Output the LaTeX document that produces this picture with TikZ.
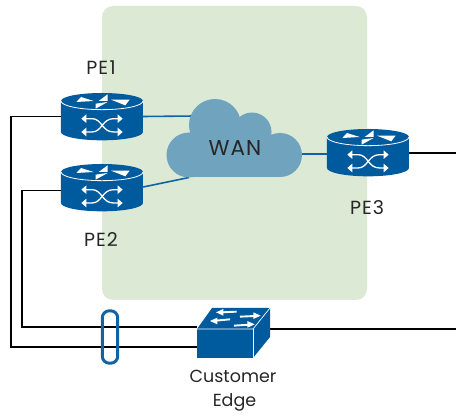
\documentclass[tikz,border=0pt]{standalone}
\usepackage{fontspec}
\setmainfont{Poppins}
\definecolor{bgG}{HTML}{DCE9D4}
\definecolor{devB}{HTML}{005A9E}
\definecolor{linkB}{HTML}{0F64A8}
\definecolor{cloudB}{HTML}{6FA3BE}
\tikzset{
  wire/.style={draw=black,line width=1.4pt},
  link/.style={draw=linkB,line width=1.6pt},
  lbl/.style={font=\fontsize{17.5}{19}\selectfont,inner sep=0pt,text=black!85},
  pelbl/.style={lbl,font=\fontsize{19}{21}\selectfont},
  anchorbox/.style={inner sep=0pt,minimum width=82pt,minimum height=47pt},
  xarrow/.style={draw=white,line width=1.3pt}
}
% zoom-grid drawing of a router: #1 left x, #2 top y
\newcommand{\routerdev}[2]{
  \begin{scope}[shift={(#1-10.67,#2-12.67)},x=0.3333pt,y=-0.3333pt]
    \fill[devB] (32,62) arc[x radius=123,y radius=24,start angle=180,end angle=360]
      -- (278,155) arc[x radius=123,y radius=25,start angle=0,end angle=180] -- cycle;
    \draw[white,line width=0.8pt] (32,62) arc[x radius=123,y radius=26,start angle=180,end angle=0];
    \fill[white] (78,65) -- (130,62) -- (92,50) -- cycle;
    \fill[white] (145,62) -- (172,42) -- (172,62) -- cycle;
    \fill[white] (136,70) -- (172,65) -- (136,85) -- cycle;
    \fill[white] (182,58) -- (238,58) -- (225,75) -- cycle;
    \draw[xarrow] (105,115) -- (125,115) .. controls (155,115) and (155,155) .. (190,155) -- (205,155);
    \draw[xarrow] (105,155) -- (125,155) .. controls (155,155) and (155,115) .. (190,115) -- (205,115);
    \fill[white] (93,115) -- (108,102) -- (108,128) -- cycle;
    \fill[white] (93,155) -- (108,142) -- (108,168) -- cycle;
    \fill[white] (217,115) -- (202,102) -- (202,128) -- cycle;
    \fill[white] (217,155) -- (202,142) -- (202,168) -- cycle;
  \end{scope}
}
\begin{document}
\begin{tikzpicture}[x=1pt,y=-1pt]
\useasboundingbox (0,0) rectangle (456,417);
\fill[bgG,rounded corners=11pt] (102,6) rectangle (367,300);
% named anchors
\coordinate (rightA) at (456,153);
\coordinate (rightB) at (456,329);
\coordinate (cloudL) at (195,116);
\coordinate (cloudLL) at (189,177.5);
\coordinate (cloudR) at (300,154);
\node[anchorbox] (pe1) at (102,116.5) {};
\node[anchorbox] (pe2) at (102,187) {};
\node[anchorbox] (pe3) at (368,152.5) {};
\node[inner sep=0pt,minimum width=56pt,minimum height=30pt] (ce) at (225,343.5) {};
\node[inner sep=0pt,minimum width=15pt,minimum height=52pt] (lag) at (110,337) {};
% connectors
\draw[link] (pe1.east) -- (cloudL);
\draw[link] (pe2.east) -- (cloudLL);
\draw[link] (pe3.west |- cloudR) -- (cloudR);
\draw[wire] (rightA) -- (pe3.east |- rightA);
\draw[wire] (pe1.west) -- (11,116.5) -- (11,347) -- (ce.west |- 0,347);
\draw[wire] (pe2.west |- 0,190.5) -- (22,190.5) -- (22,327) -- (ce.west |- 0,327);
\draw[wire] (rightB) -- (268,329);
% cloud
\fill[cloudB] (215,125) circle[radius=26];
\fill[cloudB] (252,132) circle[radius=19.5];
\fill[cloudB] (280,155) circle[radius=22];
\fill[cloudB] (189,155) circle[radius=22.5];
\fill[cloudB] (189,140) rectangle (280,177.5);
% routers
\routerdev{61}{93}
\routerdev{61}{164}
\routerdev{327}{129}
\node[lbl,font=\fontsize{21.5}{23}\selectfont,inner sep=0pt] (wan) at (235,148) {W\kern1pt A\kern1pt N};
\node[pelbl] (pe1t) at (101,68) {P\kern1pt E\kern1.5pt 1};
\node[pelbl] (pe2t) at (101,240) {P\kern1pt E\kern1pt 2};
\node[pelbl] (pe3t) at (367,208) {P\kern1pt E\kern1pt 3};
\node[lbl] (cet1) at (233,376) {Customer};
\node[lbl] (cet2) at (234.5,402) {Edge};
% switch
\fill[devB] (197,329) -- (212,308) -- (270,308) -- (270,337) -- (253,358) -- (197,358) -- cycle;
\draw[white,line width=0.7pt] (197,329) -- (253,329) -- (270,308);
\draw[white,line width=0.7pt] (253,329) -- (253,358);
\begin{scope}[shift={(180,295)},x=0.3333pt,y=-0.3333pt]
  \draw[white,line width=1.9pt] (125,52) -- (170,50);
  \draw[white,line width=1.9pt] (107,77) -- (150,73);
  \draw[white,line width=1.9pt] (180,65) -- (225,63);
  \draw[white,line width=1.9pt] (162,92) -- (208,89);
  \fill[white] (108,52) -- (130,42) -- (130,62) -- cycle;
  \fill[white] (90,78) -- (112,68) -- (112,88) -- cycle;
  \fill[white] (242,62) -- (220,52) -- (220,72) -- cycle;
  \fill[white] (224,88) -- (202,78) -- (202,98) -- cycle;
\end{scope}
% link-aggregation oval
\draw[draw=linkB,line width=3pt,rounded corners=7pt] (lag.south west) rectangle (lag.north east);
\end{tikzpicture}
\end{document}
